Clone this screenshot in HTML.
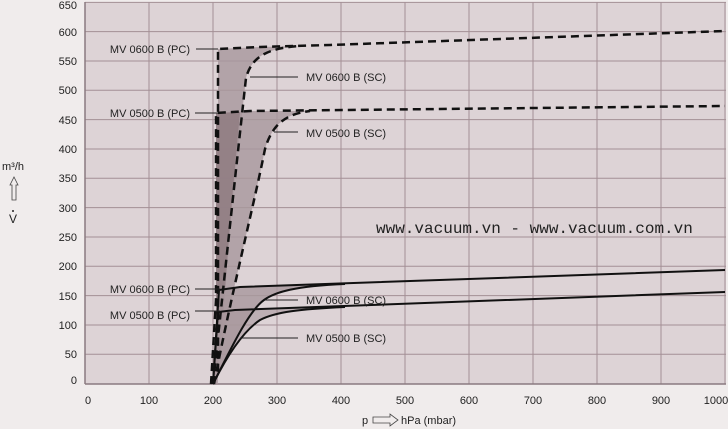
<!DOCTYPE html>
<html><head><meta charset="utf-8"><style>
html,body{margin:0;padding:0;background:#f0ecec;}
svg{display:block;font-family:"Liberation Sans",sans-serif;}
</style></head><body>
<svg width="728" height="429" viewBox="0 0 728 429">
<rect x="0" y="0" width="728" height="429" fill="#f0ecec"/>
<rect x="85" y="2" width="641" height="382" fill="#ddd3d6"/>
<g stroke="#a38f95" stroke-width="1">
<line x1="149" y1="2" x2="149" y2="384"/><line x1="213" y1="2" x2="213" y2="384"/>
<line x1="277" y1="2" x2="277" y2="384"/><line x1="341" y1="2" x2="341" y2="384"/>
<line x1="405" y1="2" x2="405" y2="384"/><line x1="469" y1="2" x2="469" y2="384"/>
<line x1="533" y1="2" x2="533" y2="384"/><line x1="597" y1="2" x2="597" y2="384"/>
<line x1="661" y1="2" x2="661" y2="384"/><line x1="725" y1="2" x2="725" y2="384"/>
<line x1="85" y1="2.4" x2="726" y2="2.4"/><line x1="85" y1="31.6" x2="726" y2="31.6"/>
<line x1="85" y1="61" x2="726" y2="61"/><line x1="85" y1="90.3" x2="726" y2="90.3"/>
<line x1="85" y1="119.6" x2="726" y2="119.6"/><line x1="85" y1="149" x2="726" y2="149"/>
<line x1="85" y1="178.3" x2="726" y2="178.3"/><line x1="85" y1="207.6" x2="726" y2="207.6"/>
<line x1="85" y1="237" x2="726" y2="237"/><line x1="85" y1="266.3" x2="726" y2="266.3"/>
<line x1="85" y1="295.6" x2="726" y2="295.6"/><line x1="85" y1="325" x2="726" y2="325"/>
<line x1="85" y1="354.3" x2="726" y2="354.3"/>
</g>
<line x1="85" y1="2" x2="85" y2="384" stroke="#8a7a80" stroke-width="1.5"/>
<line x1="85" y1="384" x2="726" y2="384" stroke="#8a7a80" stroke-width="1.5"/>
<path d="M218,384 L218,49 L260,47 L300,46 C270,48 252,55 246,78 C238,150 222,300 213,384 Z" fill="#a8979c" opacity="0.8"/>
<path d="M216,384 L216,113 L250,111 L310,111 C285,114 272,125 265,149 C255,200 230,300 214,384 Z" fill="#a8979c" opacity="0.8"/>
<path d="M216,384 L216,113 L240,112 L232,200 L222,330 Z" fill="#8a767c" opacity="0.7"/>
<path d="M213,384 L219,290 L240,287 L345,284 C295,286 275,292 264,300 C250,310 235,340 213,384 Z" fill="#a8979c" opacity="0.8"/>
<path d="M213,384 L218,312 L235,310 L345,307 C300,309 275,312 260,320 C245,330 230,350 213,384 Z" fill="#a8979c" opacity="0.6"/>
<g fill="none" stroke="#111" stroke-width="2.5" stroke-dasharray="8,5">
<path d="M213,384 L218,370 L218,49 L260,47 L330,45 L725,31"/>
<path d="M213,384 C222,300 238,150 246,78 C252,55 270,48 300,46"/>
<path d="M211,384 L216,300 L216,113 L250,111 L725,106"/>
<path d="M214,384 C230,300 255,200 265,149 C272,125 285,114 310,111"/>
</g>
<g fill="none" stroke="#111" stroke-width="2">
<path d="M213,384 L219,290 L240,287 L725,270"/>
<path d="M213,384 C235,340 250,310 264,300 C275,292 295,286 345,284"/>
<path d="M213,384 L218,312 L235,310 L725,292"/>
<path d="M213,384 C230,350 245,330 260,320 C275,312 300,309 345,307"/>
</g>
<g stroke="#222" stroke-width="1">
<line x1="196" y1="49" x2="218" y2="49"/><line x1="195" y1="113" x2="218" y2="113"/>
<line x1="250" y1="77" x2="298" y2="77"/><line x1="274" y1="132" x2="298" y2="132"/>
<line x1="195" y1="289" x2="220" y2="289"/><line x1="195" y1="311" x2="220" y2="311"/>
<line x1="265" y1="300" x2="298" y2="300"/><line x1="240" y1="338" x2="298" y2="338"/>
</g>
<g font-size="11" fill="#222">
<text x="190" y="53" text-anchor="end">MV 0600 B (PC)</text>
<text x="190" y="117" text-anchor="end">MV 0500 B (PC)</text>
<text x="306" y="81">MV 0600 B (SC)</text>
<text x="306" y="137">MV 0500 B (SC)</text>
<text x="190" y="293" text-anchor="end">MV 0600 B (PC)</text>
<text x="190" y="319" text-anchor="end">MV 0500 B (PC)</text>
<text x="306" y="304">MV 0600 B (SC)</text>
<text x="306" y="342">MV 0500 B (SC)</text>
</g>
<g font-size="11" fill="#222" text-anchor="end">
<text x="77" y="9">650</text><text x="77" y="36">600</text><text x="77" y="65">550</text>
<text x="77" y="94">500</text><text x="77" y="124">450</text><text x="77" y="153">400</text>
<text x="77" y="182">350</text><text x="77" y="212">300</text><text x="77" y="241">250</text>
<text x="77" y="270">200</text><text x="77" y="300">150</text><text x="77" y="329">100</text>
<text x="77" y="358">50</text><text x="77" y="384">0</text>
</g>
<g font-size="11" fill="#222" text-anchor="middle">
<text x="88" y="404">0</text><text x="149" y="404">100</text><text x="213" y="404">200</text>
<text x="277" y="404">300</text><text x="341" y="404">400</text><text x="405" y="404">500</text>
<text x="469" y="404">600</text><text x="533" y="404">700</text><text x="597" y="404">800</text>
<text x="661" y="404">900</text><text x="716" y="404">1000</text>
</g>
<text x="376" y="233" font-family="Liberation Mono,monospace" font-size="16" fill="#222">www.vacuum.vn - www.vacuum.com.vn</text>
<text x="2" y="170" font-size="11" fill="#222">m³/h</text>
<path d="M12,200 L12,185 L10,185 L14,177 L18,185 L16,185 L16,200 Z" fill="none" stroke="#444" stroke-width="0.8"/>
<text x="9" y="223" font-size="12" fill="#222">V</text>
<circle cx="13" cy="211" r="1" fill="#222"/>
<text x="362" y="424" font-size="11" fill="#222">p</text>
<path d="M373,417 L390,417 L390,414 L398,420 L390,426 L390,423 L373,423 Z" fill="none" stroke="#444" stroke-width="0.8"/>
<text x="401" y="424" font-size="11" fill="#222">hPa (mbar)</text>
</svg>
</body></html>
